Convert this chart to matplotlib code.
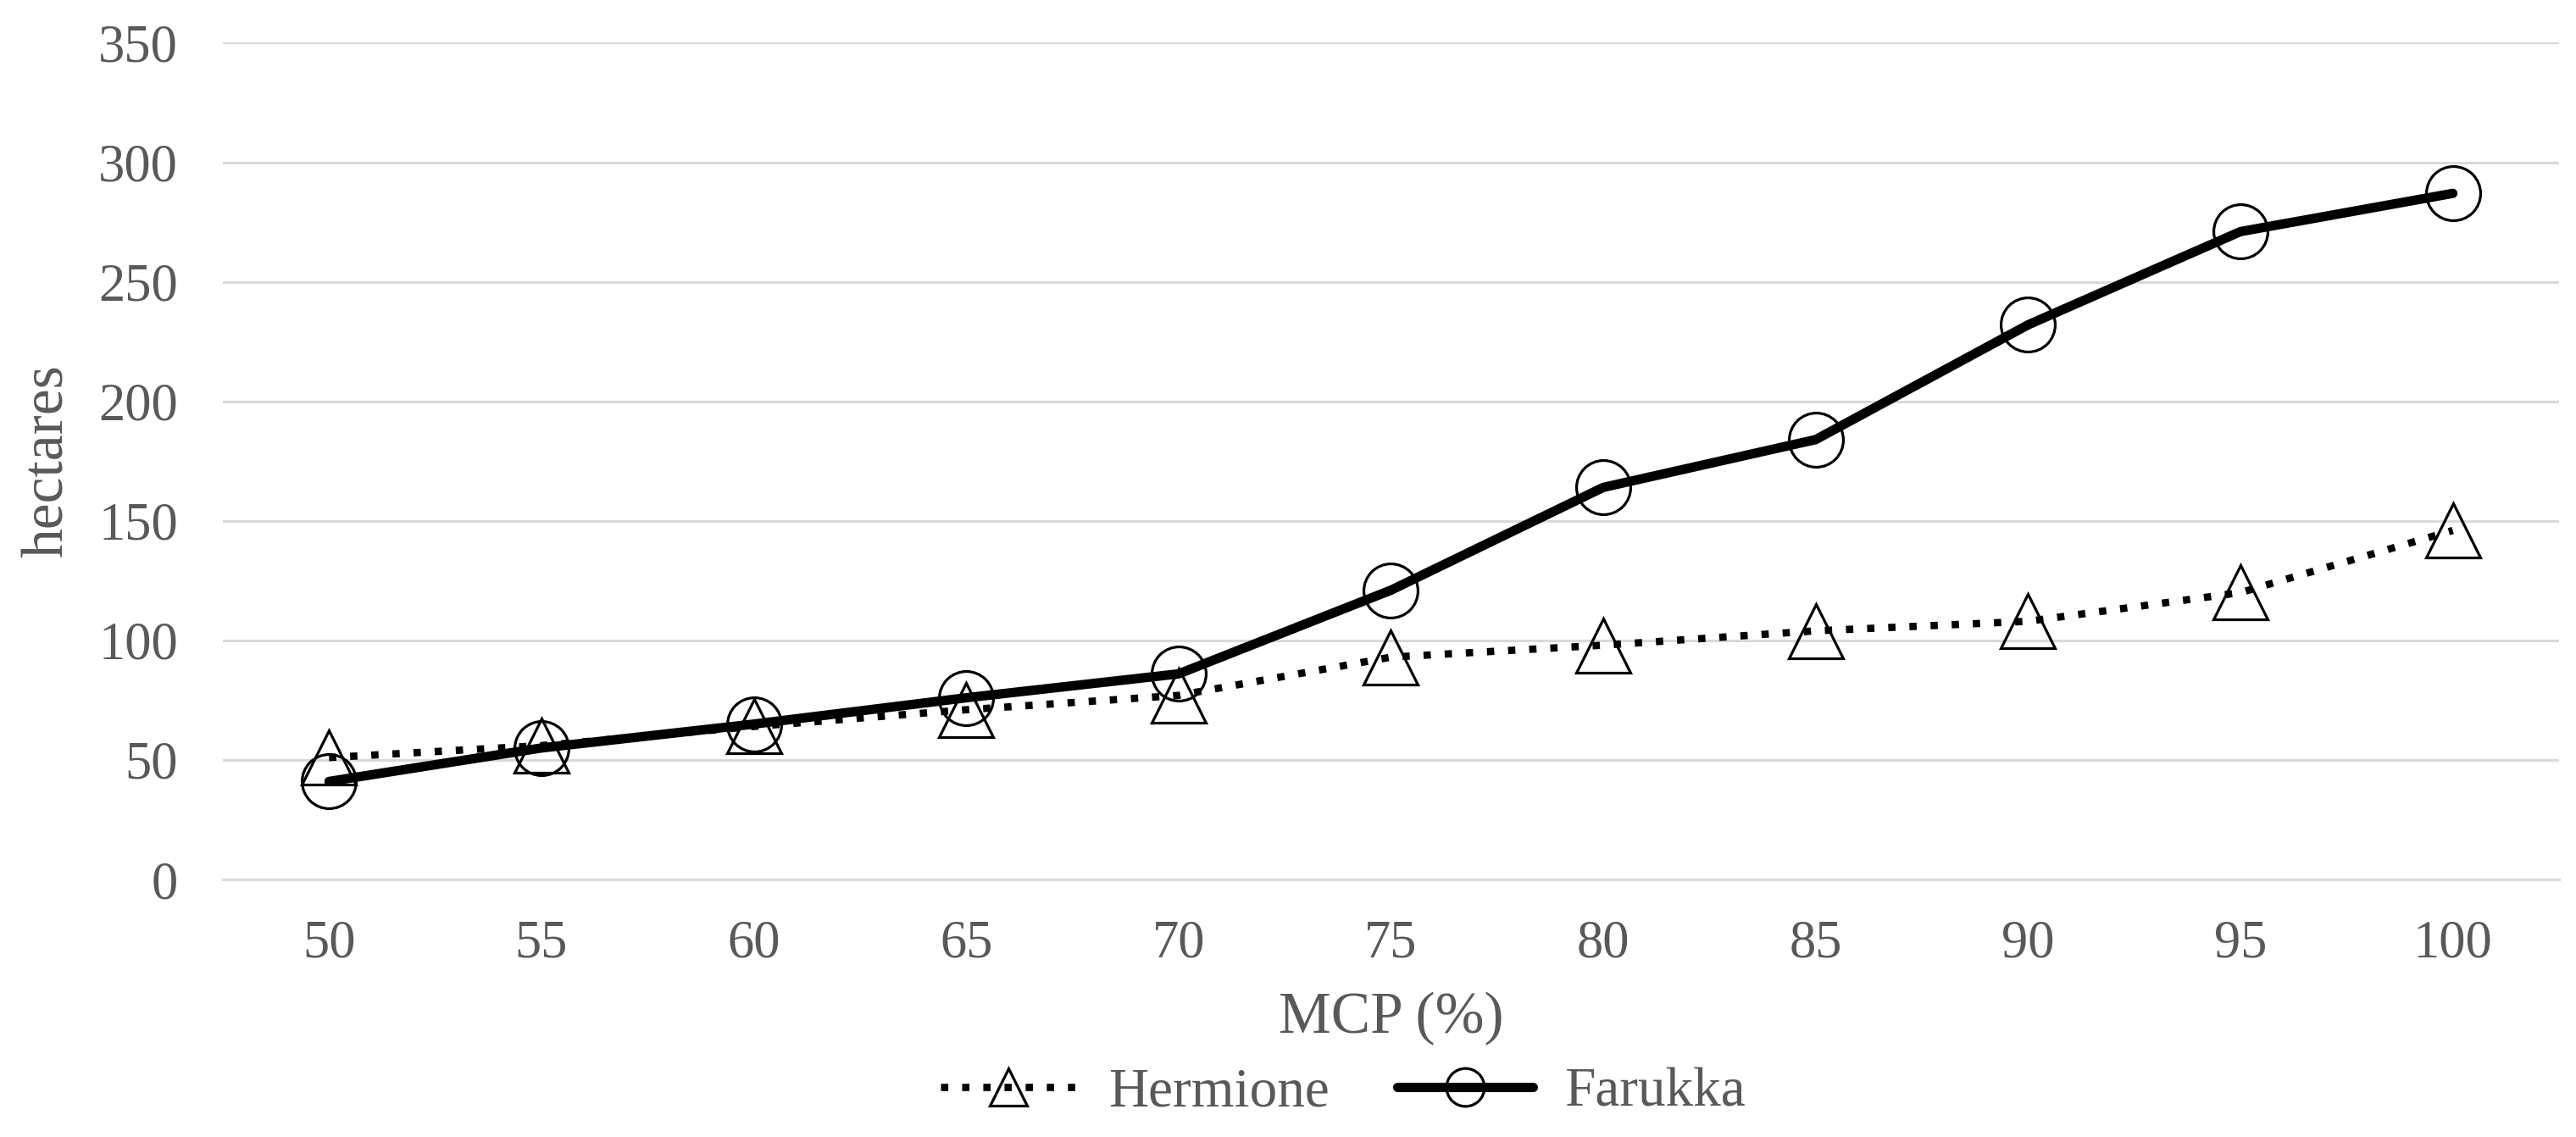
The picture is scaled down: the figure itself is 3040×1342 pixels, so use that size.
import matplotlib
matplotlib.use("Agg")
import matplotlib.pyplot as plt

categories = ["50", "55", "60", "65", "70", "75", "80", "85", "90", "95", "100"]
hermione = [51, 56, 64, 71, 77, 93, 98, 104, 108, 120, 146]
farukka = [41, 55, 65, 76, 86, 121, 164, 184, 232, 271, 287]
y_ticks = [0, 50, 100, 150, 200, 250, 300, 350]

plt.rcParams['font.family'] = ['Liberation Serif', 'DejaVu Serif']
TEXT = '#595959'
GRID = '#d9d9d9'

fig = plt.figure(figsize=(30.4, 13.42), dpi=100)
ax = fig.add_axes([0.0865, 0.2265, 0.9069, 0.7359])

x = list(range(len(categories)))
ax.plot(x, hermione, color='black', lw=6.2, linestyle=(0, (1, 1.9)),
        dash_capstyle='butt', marker='^', markersize=46, markerfacecolor='none',
        markeredgecolor='black', markeredgewidth=2.3, label='Hermione', zorder=3)
ax.plot(x, farukka, color='black', lw=8, linestyle='-', solid_capstyle='round',
        marker='o', markersize=46, markerfacecolor='none',
        markeredgecolor='black', markeredgewidth=2.3, label='Farukka', zorder=4)

ax.set_xlim(-0.5, len(categories) - 0.5)
ax.set_ylim(0, 350)
ax.set_xticks(x)
ax.set_xticklabels(categories)
ax.set_yticks(y_ticks)
ax.set_yticklabels([str(v) for v in y_ticks])
ax.tick_params(axis='both', length=0, labelsize=45, labelcolor=TEXT)
ax.tick_params(axis='y', pad=38)
ax.tick_params(axis='x', pad=34)
ax.grid(axis='y', color=GRID, lw=2.2)
ax.set_axisbelow(True)
for s in ['left', 'right', 'top']:
    ax.spines[s].set_visible(False)
ax.spines['bottom'].set_color(GRID)
ax.spines['bottom'].set_linewidth(2.2)

ax.set_xlabel('MCP (%)', fontsize=50, color=TEXT, labelpad=20)
ax.set_ylabel('hectares', fontsize=50, color=TEXT, labelpad=20)

leg = fig.legend(loc='center', bbox_to_anchor=(0.5214, 0.0388), ncol=2,
                 frameon=False, fontsize=47, handlelength=2.45,
                 handletextpad=0.58, columnspacing=1.23, markerscale=0.7)
for t in leg.get_texts():
    t.set_color(TEXT)

fig.savefig('out.png', dpi=100)
